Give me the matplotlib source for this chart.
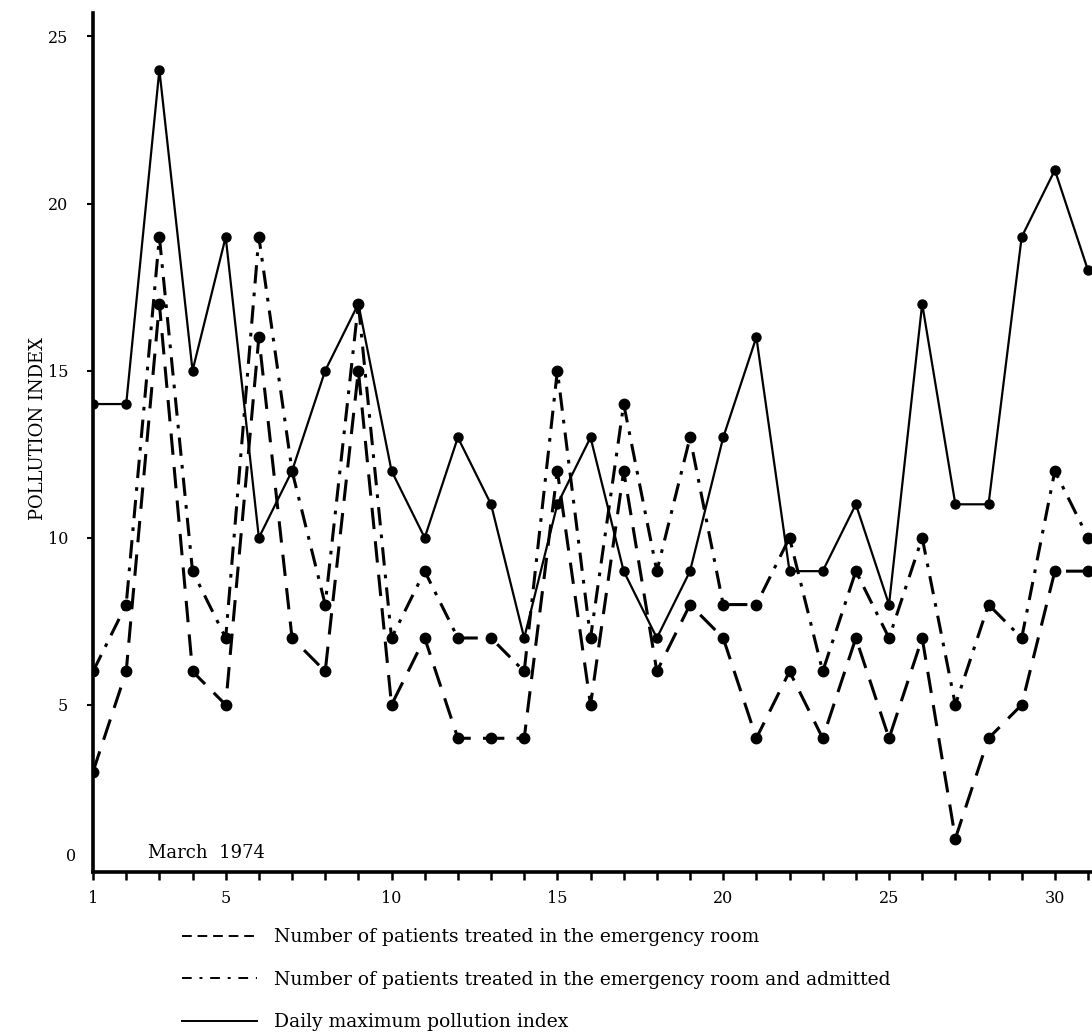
import numpy as np
import matplotlib
matplotlib.use("Agg")
import matplotlib.pyplot as plt
from matplotlib.lines import Line2D

# daily values, March 1974
days = list(range(1, 32))
pollution = [14, 14, 24, 15, 19, 10, 12, 15, 17, 12, 10, 13, 11, 7, 11, 13,
             9, 7, 9, 13, 16, 9, 9, 11, 8, 17, 11, 11, 19, 21, 18]
er_patients = [3, 6, 17, 6, 5, 16, 7, 6, 15, 5, 7, 4, 4, 4, 12, 5,
               12, 6, 8, 7, 4, 6, 4, 7, 4, 7, 1, 4, 5, 9, 9]
er_admitted = [6, 8, 19, 9, 7, 19, 12, 8, 17, 7, 9, 7, 7, 6, 15, 7,
               14, 9, 13, 8, 8, 10, 6, 9, 7, 10, 5, 8, 7, 12, 10]

x_labels = [1, 5, 10, 15, 20, 25, 30]
y_labels = [5, 10, 15, 20, 25]

lbl_er = "Number of patients treated in the emergency room"
lbl_adm = "Number of patients treated in the emergency room and admitted"
lbl_pol = "Daily maximum pollution index"

plt.rcParams["font.family"] = ["DejaVu Serif"]

fig = plt.figure(figsize=(10.92, 10.33), dpi=100)
ax = fig.add_axes([0.0852, 0.1559, 0.9148, 0.8315])

dash_er = (0, (7, 4))
dash_adm = (0, (6, 3, 1.2, 3))

ax.plot(days, pollution, color="k", lw=1.6, marker="o", ms=6.5)
ax.plot(days, er_patients, color="k", lw=2.2, linestyle=dash_er, marker="o", ms=7.5)
ax.plot(days, er_admitted, color="k", lw=2.2, linestyle=dash_adm, marker="o", ms=7.5)

ax.set_xlim(1, 31.12)
ax.set_ylim(0, 25.7)

for s in ["top", "right"]:
    ax.spines[s].set_visible(False)
ax.spines["left"].set_linewidth(2.6)
ax.spines["bottom"].set_linewidth(2.6)

ax.set_xticks(days)
ax.set_xticklabels([str(d) if d in x_labels else "" for d in days], fontsize=11.5)
ax.tick_params(axis="x", direction="out", length=6, width=1.8, pad=7)
ax.set_yticks(y_labels)
ax.set_yticklabels([str(v) for v in y_labels], fontsize=11.5)
ax.tick_params(axis="y", direction="out", length=4, width=1.5, pad=14)

ax.text(-0.017, 0.45, "0", transform=ax.get_yaxis_transform(), ha="right",
        va="center", fontsize=11.5)
ax.text(2.65, 0.3, "March  1974", ha="left", va="bottom", fontsize=13)

fig.text(0.035, 1 - 428 / 1033, "POLLUTION INDEX", rotation=90, ha="center",
         va="center", fontsize=13)

handles = [
    Line2D([], [], color="k", lw=1.4, linestyle=(0, (5, 3))),
    Line2D([], [], color="k", lw=1.4, linestyle=(0, (5, 4, 1.5, 4))),
    Line2D([], [], color="k", lw=1.4),
]
fig.legend(handles, [lbl_er, lbl_adm, lbl_pol], loc="upper left",
           bbox_to_anchor=(0.16, 1 - 921 / 1033), borderaxespad=0, frameon=False,
           handlelength=4.0, handletextpad=0.9, labelspacing=1.3, fontsize=13.5)

fig.savefig("out.png", dpi=100)
